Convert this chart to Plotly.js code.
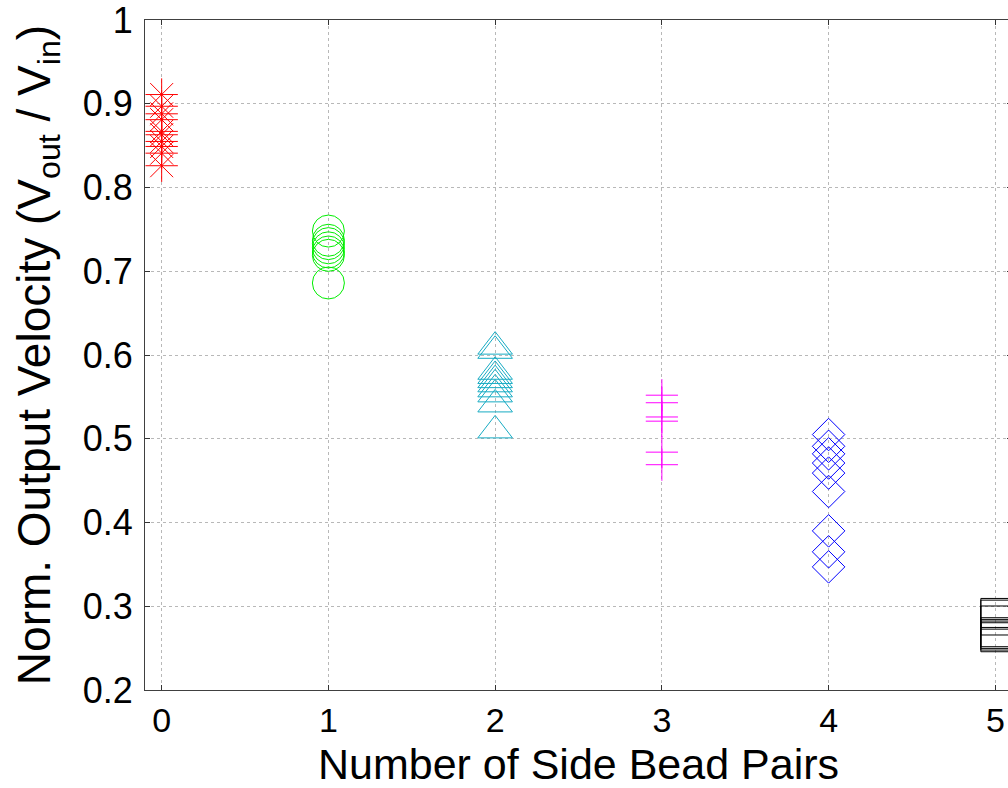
<!DOCTYPE html>
<html><head><meta charset="utf-8">
<script src="https://cdn.plot.ly/plotly-3.0.1.min.js"></script>
<style>html,body{margin:0;padding:0;overflow:hidden;background:#fff}</style>
</head><body><div id="chart" style="width:1013px;height:788px"></div>
<script>
// Number of side bead pairs and the normalized output velocities
const beadPairs = [0, 1, 2, 3, 4, 5];
const pairs0 = [0.911, 0.897, 0.888, 0.881, 0.867, 0.863, 0.855, 0.849, 0.841, 0.826];
const pairs1 = [0.748, 0.737, 0.733, 0.728, 0.723, 0.719, 0.686];
const pairs2 = [0.610, 0.605, 0.580, 0.575, 0.570, 0.565, 0.559, 0.553, 0.541, 0.510];
const pairs3 = [0.552, 0.543, 0.526, 0.521, 0.484, 0.469];
const pairs4 = [0.505, 0.491, 0.482, 0.471, 0.459, 0.437, 0.390, 0.365, 0.347];
const pairs5 = [0.292, 0.290, 0.283, 0.269, 0.267, 0.265, 0.263];
const yTicks = [0.2, 0.3, 0.4, 0.5, 0.6, 0.7, 0.8, 0.9, 1];
const yTickText = ['0.2', '0.3', '0.4', '0.5', '0.6', '0.7', '0.8', '0.9', '1'];

const seriesVals = [pairs0, pairs1, pairs2, pairs3, pairs4, pairs5];
const symbols = ['asterisk-open', 'circle-open', 'triangle-up-open', 'cross-thin-open', 'diamond-open', 'square-open'];
const colors = ['#ff0000', '#00ee00', '#17abc3', '#ff00ff', '#0000ff', '#000000'];
const sizes = [27, 32, 30, 23, 25, 29];

const traces = seriesVals.map((vals, i) => ({
  type: 'scatter', mode: 'markers',
  x: vals.map(() => beadPairs[i]), y: vals,
  marker: {symbol: symbols[i], size: sizes[i], color: colors[i], line: {color: colors[i], width: 1}},
  showlegend: false, cliponaxis: false, hoverinfo: 'x+y'
}));

const fontFam = 'Liberation Sans, Arial, sans-serif';
const layout = {
  width: 1013, height: 788,
  margin: {l: 145, r: 1, t: 20, b: 98},
  paper_bgcolor: '#ffffff', plot_bgcolor: '#ffffff',
  showlegend: false,
  xaxis: {
    range: [-0.1, 5.1], tickvals: beadPairs, ticktext: beadPairs.map(String),
    ticks: 'inside', ticklen: 5, tickcolor: '#333', tickwidth: 1,
    showline: true, linecolor: '#404040', linewidth: 1, mirror: 'ticks',
    showgrid: true, gridcolor: '#b8b8b8', griddash: 'dot', gridwidth: 1, zeroline: false,
    tickfont: {family: fontFam, size: 34, color: '#000'},
    ticklabelstandoff: 0, ticklabeloverflow: 'allow',
    title: {text: 'Number of Side Bead Pairs', font: {family: fontFam, size: 43, color: '#000'}, standoff: 12}
  },
  yaxis: {
    range: [0.2, 1], tickvals: yTicks, ticktext: yTickText,
    ticks: 'inside', ticklen: 5, tickcolor: '#333', tickwidth: 1,
    showline: true, linecolor: '#404040', linewidth: 1, mirror: 'ticks',
    showgrid: true, gridcolor: '#b8b8b8', griddash: 'dot', gridwidth: 1, zeroline: false,
    tickfont: {family: fontFam, size: 36, color: '#000'},
    ticklabelstandoff: 4, ticklabeloverflow: 'allow',
    title: {text: 'Norm. Output Velocity (V<sub>out</sub> / V<sub>in</sub>)', font: {family: fontFam, size: 46, color: '#000'}, standoff: 17}
  }
};
Plotly.newPlot('chart', traces, layout, {staticPlot: true, displayModeBar: false});
</script></body></html>
